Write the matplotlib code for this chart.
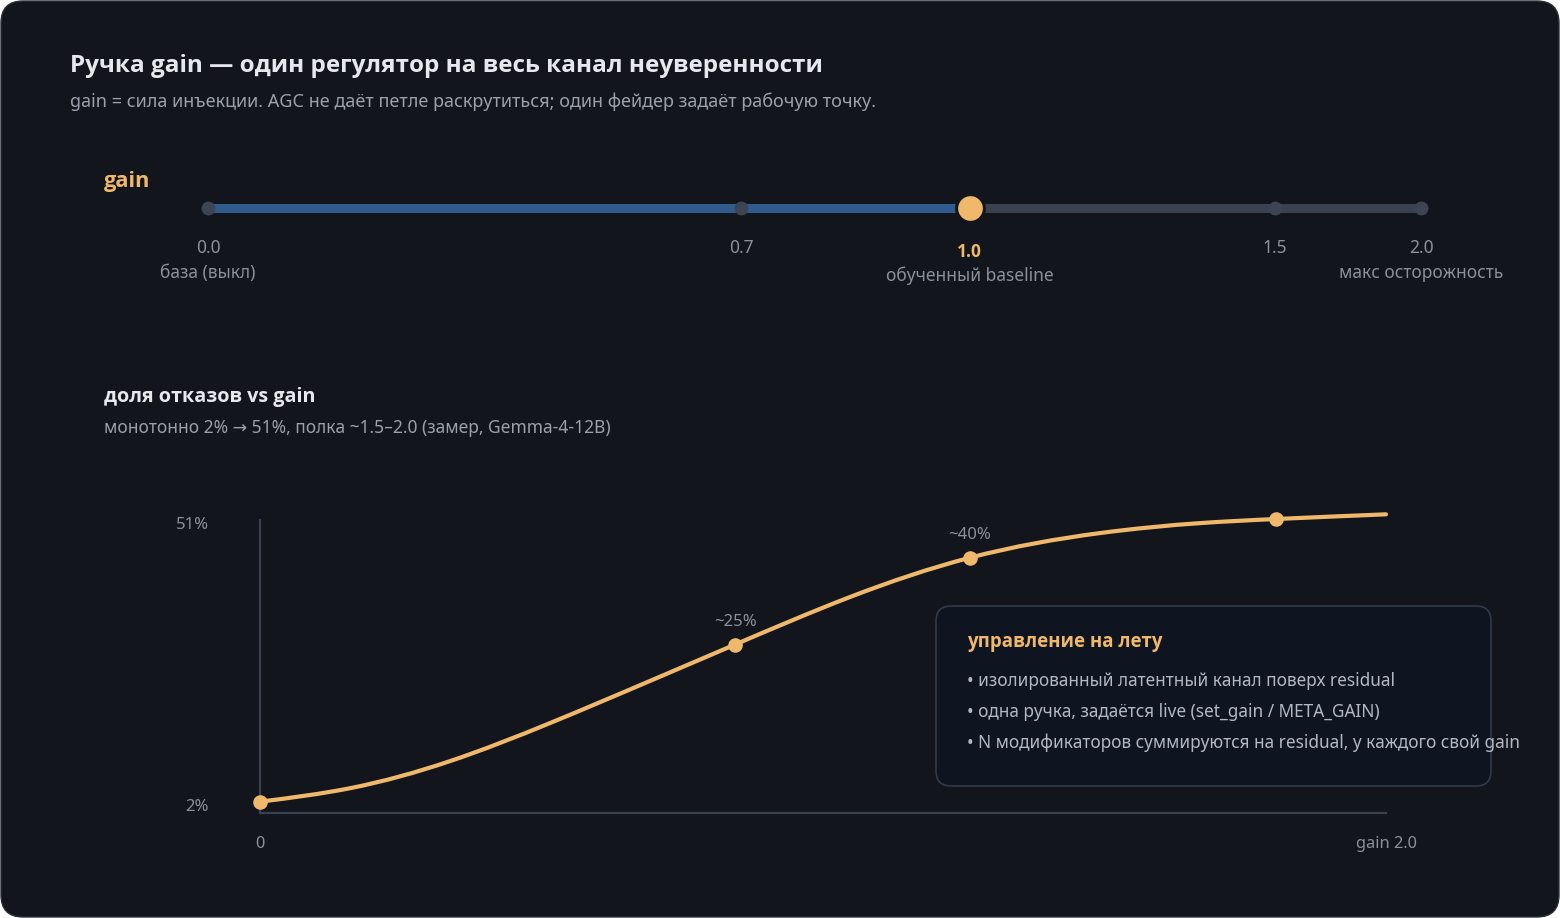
import numpy as np
import matplotlib
matplotlib.use("Agg")
import matplotlib.pyplot as plt
from matplotlib.patches import FancyBboxPatch, PathPatch
from matplotlib.path import Path

# ---------------- data ----------------
title = "Ручка gain — один регулятор на весь канал неуверенности"
subtitle = "gain = сила инъекции. AGC не даёт петле раскрутиться; один фейдер задаёт рабочую точку."

slider_values = [0.0, 0.7, 1.0, 1.5, 2.0]
slider_labels = ["0.0", "0.7", "1.0", "1.5", "2.0"]
slider_captions = ["база (выкл)", "", "обученный baseline", "", "макс осторожность"]
current_gain = 1.0

chart_title = "доля отказов vs gain"
chart_subtitle = "монотонно 2% → 51%, полка ~1.5–2.0 (замер, Gemma-4-12B)"

# curve (x: gain 0..2, y: %)
curve_gain = [0.0, 0.16, 0.337, 0.515, 0.693, 0.844, 1.048, 1.261, 1.492, 1.67, 1.805, 2.0]
curve_pct = [2.0, 4.3, 8.9, 15.4, 22.6, 28.8, 36.9, 43.6, 47.8, 49.5, 50.2, 51.0]

marker_gain = [0.0, 0.844, 1.261, 1.805]
marker_pct = [2.0, 28.8, 43.6, 50.2]
marker_labels = ["", "~25%", "~40%", ""]

y_ticks = [2, 51]
y_tick_labels = ["2%", "51%"]
x_ticks = [0.0, 2.0]
x_tick_labels = ["0", "gain 2.0"]

box_title = "управление на лету"
box_items = [
    "• изолированный латентный канал поверх residual",
    "• одна ручка, задаётся live (set_gain / META_GAIN)",
    "• N модификаторов суммируются на residual, у каждого свой gain",
]

# ---------------- style ----------------
W, H = 1560, 918
BG = "#12151c"
TXT = "#e6e8ec"
SUB = "#9aa1ab"
GRAY = "#8a919b"
ORANGE = "#f0b86a"
BLUE = "#2f5b8d"
TRACK = "#3a4151"
DOT = "#3d4454"
AXIS = "#394050"
FONT = ["Noto Sans", "DejaVu Sans"]
BOLD = ["Open Sans", "DejaVu Sans"]
plt.rcParams["font.family"] = FONT

fig = plt.figure(figsize=(W / 100, H / 100), dpi=100, facecolor="white")

card = FancyBboxPatch((0.01, 0.01), W / 100 - 0.02, H / 100 - 0.02,
                      boxstyle="round,pad=0,rounding_size=0.22",
                      transform=fig.dpi_scale_trans, facecolor=BG,
                      edgecolor="#2a2e37", linewidth=1.0, zorder=-10)
fig.patches.append(card)


def T(x, y, s, **kw):
    kw.setdefault("va", "center")
    return fig.text(x / W, 1 - y / H, s, **kw)


T(70, 66, title, fontsize=17.5, fontweight="bold", family=BOLD, color=TXT)
T(70, 102, subtitle, fontsize=13.0, color=SUB)
T(104, 182, "gain", fontsize=15.7, fontweight="bold", family=BOLD, color=ORANGE)
T(104, 397, chart_title, fontsize=14.2, fontweight="bold", family=BOLD, color=TXT)
T(104, 428, chart_subtitle, fontsize=12.5, color=SUB)

# ---------------- slider ----------------
s_knots = [0.0, 0.7, 1.0, 1.5, 2.0]
s_fracs = [0.0, 0.4394, 0.628, 0.8796, 1.0]


def s_fwd(v):
    return np.interp(v, s_knots, s_fracs)


def s_inv(v):
    return np.interp(v, s_fracs, s_knots)


sax = fig.add_axes([208 / W, (H - 226) / H, (1421 - 208) / W, 36 / H])
sax.set_xscale("function", functions=(s_fwd, s_inv))
sax.set_xlim(0, 2)
sax.set_ylim(-1, 1)
sax.axis("off")
lo, hi = min(slider_values), max(slider_values)
sax.plot([lo, current_gain], [0, 0], color=BLUE, lw=6.5, solid_capstyle="butt", zorder=1)
sax.plot([current_gain, hi], [0, 0], color=TRACK, lw=6.5, solid_capstyle="butt", zorder=1)
others = [v for v in slider_values if v != current_gain]
sax.scatter(others, [0] * len(others), s=100, color=DOT, zorder=2, clip_on=False, linewidths=0)
sax.scatter([current_gain], [0], s=400, color=ORANGE, edgecolor=BG, linewidth=2.2,
            zorder=3, clip_on=False)
for v, lab, cap in zip(slider_values, slider_labels, slider_captions):
    active = v == current_gain
    sax.annotate(lab, (v, 0), xytext=(0, -44 if active else -40), textcoords="offset pixels",
                 ha="center", va="center", fontsize=12.5,
                 fontweight="bold" if active else "normal",
                 family=BOLD if active else FONT,
                 color=ORANGE if active else GRAY, annotation_clip=False)
    if cap:
        sax.annotate(cap, (v, 0), xytext=(0, -68 if active else -65), textcoords="offset pixels",
                     ha="center", va="center", fontsize=12.5, color=GRAY, annotation_clip=False)

# ---------------- curve chart ----------------
ax = fig.add_axes([260 / W, (H - 813) / H, 1126 / W, 293 / H])
ax.set_facecolor("none")
ax.set_xlim(0, 2)
ax.set_ylim(0.07, 50.03)
for sp in ["top", "right"]:
    ax.spines[sp].set_visible(False)
for sp in ["left", "bottom"]:
    ax.spines[sp].set_color(AXIS)
    ax.spines[sp].set_linewidth(1.6)
ax.set_xticks([])
ax.set_yticks([])


def smooth_path(xs, ys):
    """Natural cubic spline through the points, drawn as Bezier segments."""
    x = np.asarray(xs, float)
    y = np.asarray(ys, float)
    n = len(x)
    h = np.diff(x)
    s = np.diff(y) / h
    A = np.zeros((n, n))
    b = np.zeros(n)
    A[0, 0] = A[-1, -1] = 1.0
    for i in range(1, n - 1):
        A[i, i - 1] = h[i - 1]
        A[i, i] = 2 * (h[i - 1] + h[i])
        A[i, i + 1] = h[i]
        b[i] = 6 * (s[i] - s[i - 1])
    M = np.linalg.solve(A, b)
    m = np.empty(n)
    m[:-1] = s - h * (2 * M[:-1] + M[1:]) / 6
    m[-1] = s[-1] + h[-1] * (M[-2] + 2 * M[-1]) / 6
    verts = [(x[0], y[0])]
    codes = [Path.MOVETO]
    for i in range(n - 1):
        d = h[i] / 3
        verts += [(x[i] + d, y[i] + m[i] * d), (x[i + 1] - d, y[i + 1] - m[i + 1] * d),
                  (x[i + 1], y[i + 1])]
        codes += [Path.CURVE4] * 3
    return Path(np.array(verts), codes)


ax.add_patch(PathPatch(smooth_path(curve_gain, curve_pct), facecolor="none",
                       edgecolor=ORANGE, lw=3.0, capstyle="round", clip_on=False, zorder=3))
ax.scatter(marker_gain, marker_pct, s=110, color=ORANGE, zorder=4, clip_on=False, linewidths=0)
for g, p, lab in zip(marker_gain, marker_pct, marker_labels):
    if lab:
        ax.annotate(lab, (g, p), xytext=(0, 23), textcoords="offset pixels", ha="center",
                    va="center", fontsize=12, color=GRAY, annotation_clip=False)
ytop = ax.get_ylim()[1]
for v, lab in zip(y_ticks, y_tick_labels):
    ax.annotate(lab, (0, min(v, ytop)), xycoords=("axes fraction", "data"), xytext=(-51, -5),
                textcoords="offset pixels", ha="right", va="center", fontsize=12,
                color=GRAY, annotation_clip=False)
for v, lab in zip(x_ticks, x_tick_labels):
    ax.annotate(lab, (v, 0), xycoords=("data", "axes fraction"), xytext=(0, -31),
                textcoords="offset pixels", ha="center", va="center", fontsize=11.8,
                color=GRAY, annotation_clip=False)

# ---------------- info box ----------------
box = FancyBboxPatch((9.36, (H - 786) / 100), 5.55, 1.80,
                     boxstyle="round,pad=0,rounding_size=0.15",
                     transform=fig.dpi_scale_trans, facecolor="#0f1520",
                     edgecolor="#323a48", linewidth=1.2, zorder=5)
fig.patches.append(box)
T(967, 642, box_title, fontsize=13.4, fontweight="bold", family=BOLD, color=ORANGE, zorder=6)
for i, item in enumerate(box_items):
    T(967, 681 + 31 * i, item, fontsize=12.4, color="#b3b9c2", zorder=6)

fig.savefig("out.png", dpi=100, facecolor="white")
